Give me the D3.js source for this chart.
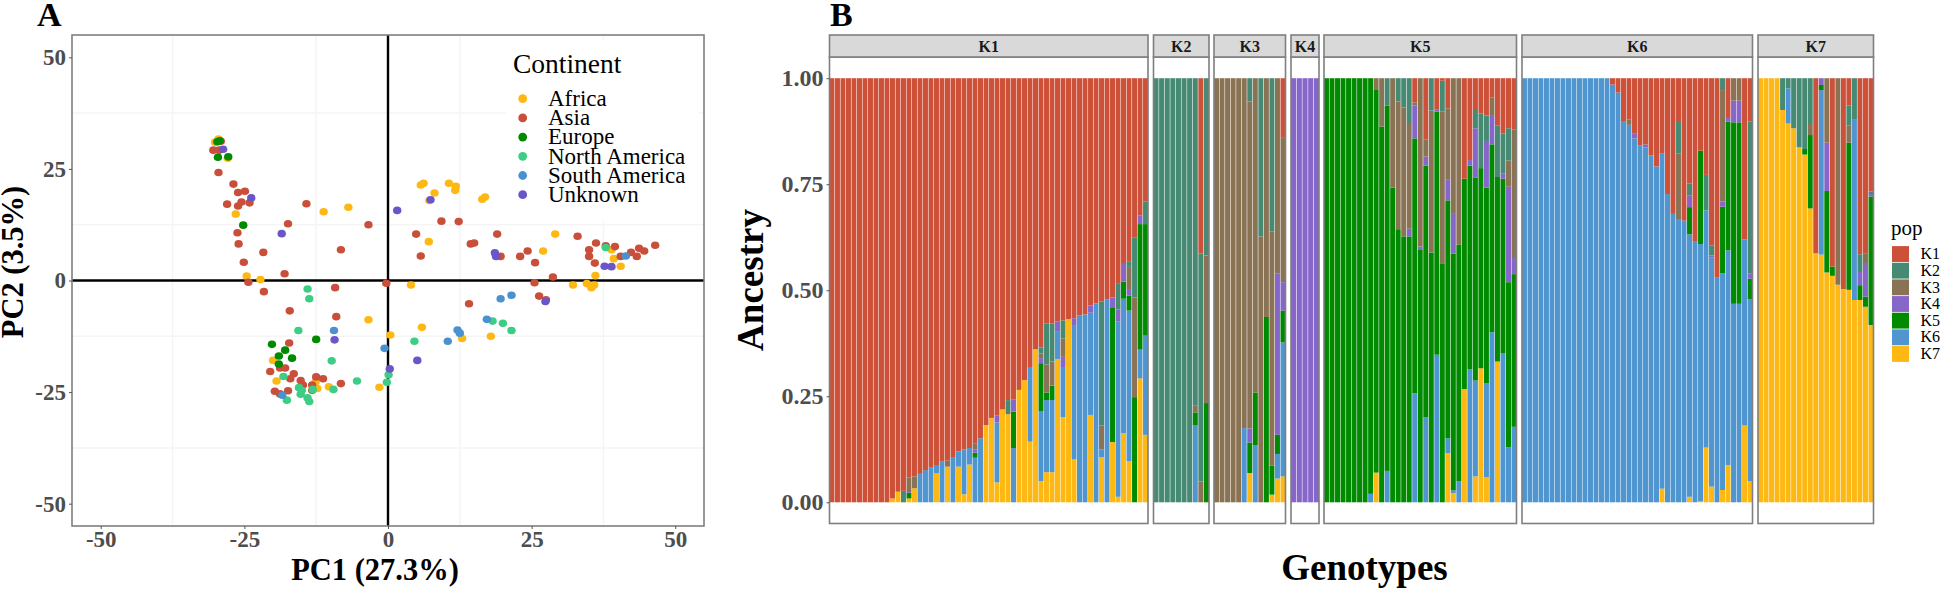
<!DOCTYPE html>
<html>
<head>
<meta charset="utf-8">
<script src="https://d3js.org/d3.v7.min.js"></script>
<style>
  body { margin: 0; background: #fff; }
  svg { display: block; }
  text { font-family: "Liberation Serif", serif; }
</style>
</head>
<body>
<script>
// Panel A: PCA points, [PC1, PC2] per continent
var continents = ["Africa", "Asia", "Europe", "North America", "South America", "Unknown"];
var continentColors = ["#fdb813", "#c94f3b", "#008a00", "#3dcd84", "#4a92cf", "#6a55c9"];

var africa = [[-30.1,31.0],[-29.5,31.7],[-27.9,27.4],[-26.5,14.9],[-24.6,1.0],[-22.2,0.2],[-11.2,15.4],[-6.9,16.4],[5.7,21.4],[6.2,21.8],[8.1,19.6],[7.2,17.9],[10.6,21.8],[11.8,21.1],[11.7,20.2],[16.4,18.2],[16.9,18.7],[7.1,8.7],[4.0,-1.0],[29.1,10.4],[27.0,6.6],[32.2,-1.0],[34.6,-0.7],[36.1,1.1],[35.9,-1.0],[35.4,-1.6],[38.9,6.9],[39.3,4.9],[40.5,3.2],[-3.4,-8.8],[5.9,-10.5],[0.4,-12.2],[12.9,-13.0],[17.9,-12.5],[-20.0,-17.9],[-19.4,-22.5],[-12.6,-22.7],[-12.3,-24.2],[-10.3,-23.8],[-1.5,-23.9]];
var asia = [[-29.1,31.2],[-30.4,29.2],[-29.4,29.2],[-29.5,24.2],[-26.9,21.6],[-26.1,19.7],[-24.9,20.0],[-28.0,17.1],[-26.1,16.7],[-25.5,17.6],[-24.1,17.4],[-26.2,10.7],[-26.0,8.2],[-25.1,4.1],[-24.3,-0.4],[-21.7,6.3],[-21.6,-2.5],[-18.0,1.5],[-17.4,12.7],[-14.2,17.2],[-8.2,6.9],[-3.4,12.5],[-9.2,-1.6],[-0.3,-0.6],[4.9,10.4],[5.7,5.5],[9.3,13.3],[12.3,13.2],[14.4,8.2],[15.0,8.4],[19.0,10.4],[19.6,5.4],[23.0,5.4],[24.3,6.6],[25.6,4.0],[25.5,-0.5],[28.7,0.8],[33.0,9.9],[35.0,6.9],[35.0,5.4],[36.2,8.4],[36.0,3.9],[37.9,7.8],[39.5,7.6],[40.5,5.4],[42.3,6.3],[43.7,7.2],[43.3,5.4],[44.6,6.6],[46.5,7.9],[26.3,-3.5],[27.5,-4.3],[14.1,-5.2],[-17.1,-6.8],[-9.0,-8.1],[-17.2,-14.0],[-20.5,-20.4],[-18.8,-19.6],[-17.9,-19.6],[-16.4,-20.9],[-17.0,-22.0],[-15.2,-22.4],[-14.8,-23.4],[-12.5,-21.6],[-11.3,-22.0],[-8.2,-23.1],[-19.7,-24.8],[-17.4,-24.7],[-13.2,-23.4],[-13.2,-24.6],[-18.8,-25.4]];
var europe = [[-29.7,31.1],[-29.3,31.3],[-29.6,27.6],[-27.8,27.7],[-25.2,12.4],[-20.2,-14.3],[-12.5,-13.2],[-17.9,-15.6],[-19.0,-16.9],[-16.7,-17.4],[-19.0,-18.7]];
var northAmerica = [[-14.0,-1.9],[-13.7,-4.1],[37.9,7.4],[-15.6,-11.2],[18.2,-9.1],[20.0,-9.6],[21.5,-11.2],[4.6,-13.6],[-9.8,-18.0],[0.1,-21.1],[-0.2,-22.8],[-5.4,-22.5],[-18.2,-21.5],[-15.5,-24.0],[-15.0,-24.6],[-15.2,-25.5],[-13.1,-24.4],[-9.5,-24.4],[-17.6,-26.8],[-14.0,-26.3],[-13.7,-27.1]];
var southAmerica = [[19.6,-4.1],[21.5,-3.3],[41.4,5.5],[17.2,-8.7],[12.1,-11.1],[12.5,-11.8],[10.4,-13.6],[-9.4,-11.2],[-0.6,-15.2],[-18.4,-25.7]];
var unknown = [[-28.7,29.4],[-23.8,18.5],[-18.5,10.5],[1.6,15.7],[7.4,18.1],[18.6,6.2],[18.8,5.4],[37.7,3.2],[38.9,3.1],[27.4,-4.7],[-9.3,-13.3],[5.1,-17.9],[0.3,-19.8]];
var pcaPoints = [africa, asia, europe, northAmerica, southAmerica, unknown];
var pcaTicks = [-50, -25, 0, 25, 50];
var pcaMinor = [-37.5, -12.5, 12.5, 37.5];

// Panel B: ancestry per genotype, each row is [K1, K2, K3, K4, K5, K6, K7]
var pops = ["K1", "K2", "K3", "K4", "K5", "K6", "K7"];
var popColors = ["#cd5038", "#468a73", "#8a7355", "#8766c9", "#008a00", "#4f95cf", "#fdb813"];
var ancestryTicks = [0, 0.25, 0.5, 0.75, 1];

var barsK1 = [[1,0,0,0,0,0,0],[1,0,0,0,0,0,0],[1,0,0,0,0,0,0],[1,0,0,0,0,0,0],[1,0,0,0,0,0,0],[1,0,0,0,0,0,0],[1,0,0,0,0,0,0],[1,0,0,0,0,0,0],[1,0,0,0,0,0,0],[1,0,0,0,0,0,0],[1,0,0,0,0,0,0],
  [.991,0,0,0,0,0,.009],[.975,0,0,0,0,0,.025],[.973,.027,0,0,0,0,0],[.941,0,.035,.002,.013,0,.009],[.939,0,.028,0,0,0,.033],[.933,0,0,0,0,.067,0],[.924,0,0,0,0,.076,0],[.917,0,0,0,0,.083,0],[.914,0,0,0,0,.018,.068],
  [.903,0,0,0,0,.097,0],[.901,0,.015,0,0,0,.084],[.895,0,0,0,0,.105,0],[.88,0,0,0,0,.036,.084],[.875,0,0,0,0,.106,.019],[.872,0,0,0,0,.039,.089],[.862,0,.013,.008,.012,.105,0],[.849,0,0,0,0,.151,0],[.818,0,0,0,0,0,.182],[.801,0,0,0,0,0,.199],
  [.795,0,0,.017,0,.141,.047],[.781,0,0,0,0,0,.219],[.759,.033,0,0,0,0,.208],[.757,0,0,.029,.086,.128,0],[.735,0,0,0,0,0,.265],[.712,0,0,0,0,0,.288],[.681,0,0,0,0,.176,.143],[.639,0,0,0,0,0,.361],[.635,.014,.011,.012,.114,.164,.05],[.578,.097,.066,0,.018,.17,.071],
  [.578,.09,.057,0,.034,.17,.071],[.574,0,0,.024,0,.064,.338],[.571,.043,.043,.024,0,.118,.201],[.568,0,0,0,0,0,.432],[.566,0,0,.016,0,.317,.101],[.559,0,0,0,0,.441,0],[.557,0,0,0,0,.443,0],[.536,0,0,.017,0,.241,.206],[.531,0,0,0,0,.469,0],[.527,.292,.056,0,0,.019,.106],
  [.521,0,0,0,0,.479,0],[.517,0,0,.023,.318,0,.142],[.485,.06,0,.028,0,.414,.013],[.438,0,0,.042,.04,.317,.163],[.433,.012,.052,.016,.035,.355,.097],[.375,.142,.235,0,.248,0,0],[.324,0,0,.02,.296,.068,.292],[.291,.053,0,0,.263,.234,.159]];

var barsK2 = [[0,1,0,0,0,0,0],[0,1,0,0,0,0,0],[0,1,0,0,0,0,0],[0,1,0,0,0,0,0],[0,1,0,0,0,0,0],[0,1,0,0,0,0,0],[0,1,0,0,0,0,0],
  [0,.771,.017,0,.031,.181,0],[.413,.538,.049,0,0,0,0],[0,.418,.348,0,.234,0,0]];

var barsK3 = [[0,0,1,0,0,0,0],[0,0,1,0,0,0,0],[0,0,1,0,0,0,0],[0,0,1,0,0,0,0],[0,0,1,0,0,0,0],
  [0,0,.825,0,0,.175,0],[0,.055,.771,.033,.072,0,.069],[0,0,.741,0,.124,.135,0],[0,.373,.627,0,0,0,0],[0,0,.563,0,.437,0,0],[0,.361,.553,0,.068,0,.018],[0,0,.461,.38,.045,.058,.056],[.139,0,.342,.067,.075,.316,.061]];

var barsK4 = [[0,0,0,1,0,0,0],[0,0,0,1,0,0,0],[0,0,0,1,0,0,0],[0,0,0,1,0,0,0],[0,0,0,1,0,0,0]];

var barsK5 = [[0,0,0,0,1,0,0],[0,0,0,0,1,0,0],[0,0,0,0,1,0,0],[0,0,0,0,1,0,0],[0,0,0,0,1,0,0],[0,0,0,0,1,0,0],[0,0,0,0,1,0,0],[0,0,0,0,1,0,0],
  [0,0,0,0,.98,.02,0],[0,0,.026,0,.904,0,.07],[0,0,.114,0,.886,0,0],[0,.065,0,0,.861,.074,0],[0,0,.258,0,.742,0,0],[0,.055,.301,0,.644,0,0],[0,.069,.304,0,.627,0,0],[0,.108,.247,.018,.627,0,0],
  [.057,0,.007,.078,.601,.257,0],[0,0,.397,.008,.595,0,0],[.144,0,.041,.021,.594,.2,0],[0,.076,.335,0,.589,0,0],[.073,0,0,.006,.573,.348,0],[.006,.073,.359,0,.562,0,0],[.071,0,.167,.05,.561,.035,.116],[0,0,.32,.094,.558,.006,.022],
  [0,0,.393,0,.557,.05,0],[.237,0,0,0,.496,0,.267],[.193,0,0,.013,.48,.314,0],[.075,.043,0,.117,.478,.226,.061],[.083,.129,0,0,.472,0,.316],[.088,.06,0,.11,.461,.222,.059],[.046,0,.043,.067,.443,.401,0],[.111,.122,0,0,.435,0,.332],
  [.13,.094,0,.013,.411,.352,0],[.118,.076,.062,.225,.389,.13,0],[.121,0,.303,.038,.36,.178,0]];

var barsK6 = [[0,0,0,0,0,1,0],[0,0,0,0,0,1,0],[0,0,0,0,0,1,0],[0,0,0,0,0,1,0],[0,0,0,0,0,1,0],[0,0,0,0,0,1,0],[0,0,0,0,0,1,0],[0,0,0,0,0,1,0],[0,0,0,0,0,1,0],[0,0,0,0,0,1,0],[0,0,0,0,0,1,0],[0,0,0,0,0,1,0],[0,0,0,0,0,1,0],[0,0,0,0,0,1,0],[0,0,0,0,0,1,0],[0,0,0,0,0,1,0],
  [.015,0,0,0,0,.985,0],[.034,0,0,0,0,.966,0],[.101,0,0,0,0,.899,0],[.097,0,.013,0,0,.89,0],[.131,0,0,.011,0,.858,0],[.159,0,0,0,0,.841,0],[.156,0,0,.007,0,.837,0],[.182,0,0,0,0,.818,0],[.208,0,0,0,0,.792,0],[.178,0,0,0,0,.79,.032],[.273,0,0,0,0,.727,0],[.32,0,0,0,0,.68,0],
  [.101,.076,.155,0,0,.668,0],[.336,0,0,0,0,.664,0],[.248,.028,0,.028,.064,.619,.013],[.384,0,0,0,0,.616,0],[.171,0,0,0,.22,.607,.002],[.228,.084,0,0,0,.559,.129],[.395,.023,0,.004,0,.541,.037],[.469,0,0,0,0,.531,0],[0,.028,.263,.012,.157,.511,.029],[.094,0,0,.008,.304,.506,.088],
  [0,0,.053,.051,.428,.468,0],[0,0,.053,.051,.428,.468,0],[.38,0,0,0,0,.439,.181],[.102,.359,0,.012,.048,.429,.05]];

var barsK7 = [[0,0,0,0,0,0,1],[0,0,0,0,0,0,1],[0,0,0,0,0,0,1],[0,0,0,0,0,0,1],
  [0,.075,0,0,0,0,.925],[0,.024,0,0,0,.083,.893],[0,.118,0,0,0,0,.882],[0,.163,0,0,0,0,.837],[0,.167,0,0,.013,0,.82],[0,.108,.026,0,.173,0,.693],[.413,0,0,0,0,0,.587],[0,0,0,.016,.012,.388,.584],
  [0,0,.152,.114,.192,0,.542],[.444,0,0,0,.022,0,.534],[0,0,.487,0,0,0,.513],[.497,0,0,0,0,0,.503],[.064,.047,.041,0,.347,0,.501],[0,.098,0,0,0,.425,.477],[.415,.042,0,.031,.035,0,.477],[.414,0,.024,.077,.024,0,.461],[.267,.006,0,.006,.303,0,.418]];

var facetNames = ["K1", "K2", "K3", "K4", "K5", "K6", "K7"];
var facetBars = [barsK1, barsK2, barsK3, barsK4, barsK5, barsK6, barsK7];
var facetX = [[829.5, 1148], [1153.5, 1209], [1214, 1285.5], [1291, 1319], [1324, 1516.5], [1522, 1752.5], [1758, 1873.5]];

var serif = "'Liberation Serif', serif";
var frame = "#7f7f7f";

var svg = d3.select("body").append("svg")
    .attr("width", 1944)
    .attr("height", 589);

// ---------- Panel A ----------
var A = {left: 72, right: 704, top: 35, bottom: 526};
var x = d3.scaleLinear().domain([-55, 55]).range([A.left, A.right]);
var y = d3.scaleLinear().domain([-55, 55]).range([A.bottom, A.top]);

svg.append("rect")
    .attr("x", A.left).attr("y", A.top)
    .attr("width", A.right - A.left).attr("height", A.bottom - A.top)
    .attr("fill", "#fff");

svg.selectAll(".gridx").data(pcaMinor).enter().append("line")
    .attr("x1", function(d) { return x(d); }).attr("x2", function(d) { return x(d); })
    .attr("y1", A.top).attr("y2", A.bottom)
    .attr("stroke", "#f5f5f5").attr("stroke-width", 1.5);
svg.selectAll(".gridy").data(pcaMinor).enter().append("line")
    .attr("y1", function(d) { return y(d); }).attr("y2", function(d) { return y(d); })
    .attr("x1", A.left).attr("x2", A.right)
    .attr("stroke", "#f5f5f5").attr("stroke-width", 1.5);

// legend background hides the grid
svg.append("rect").attr("x", 506).attr("y", 40).attr("width", 193).attr("height", 181).attr("fill", "#fff");

// zero lines
svg.append("line").attr("x1", x(0)).attr("x2", x(0)).attr("y1", A.top).attr("y2", A.bottom)
    .attr("stroke", "#000").attr("stroke-width", 2.4);
svg.append("line").attr("y1", y(0)).attr("y2", y(0)).attr("x1", A.left).attr("x2", A.right)
    .attr("stroke", "#000").attr("stroke-width", 2.4);

// points
pcaPoints.forEach(function(pts, i) {
  svg.append("g").selectAll("ellipse")
      .data(pts)
    .enter().append("ellipse")
      .attr("cx", function(d) { return x(d[0]); })
      .attr("cy", function(d) { return y(d[1]); })
      .attr("rx", 4.2)
      .attr("ry", 3.8)
      .attr("fill", continentColors[i]);
});

svg.append("rect")
    .attr("x", A.left).attr("y", A.top)
    .attr("width", A.right - A.left).attr("height", A.bottom - A.top)
    .attr("fill", "none").attr("stroke", frame).attr("stroke-width", 1.6);

// axes
var axisA_x = svg.append("g").attr("transform", "translate(0," + A.bottom + ")")
    .call(d3.axisBottom(x).tickValues(pcaTicks).tickFormat(String).tickSize(3));
var axisA_y = svg.append("g").attr("transform", "translate(" + A.left + ",0)")
    .call(d3.axisLeft(y).tickValues(pcaTicks).tickFormat(String).tickSize(3));
[axisA_x, axisA_y].forEach(function(g) {
  g.select(".domain").remove();
  g.selectAll("line").attr("stroke", "#555");
  g.selectAll("text").attr("fill", "#4d4d4d").attr("font-family", serif)
      .attr("font-weight", "bold").attr("font-size", 23);
});
axisA_x.selectAll("text").attr("dy", "0.66em");

svg.append("text").attr("x", 37).attr("y", 26).attr("font-size", 34).attr("font-weight", "bold").text("A");
svg.append("text").attr("x", 375).attr("y", 580).attr("text-anchor", "middle")
    .attr("font-size", 30.5).attr("font-weight", "bold").text("PC1 (27.3%)");
svg.append("text").attr("transform", "translate(23,262) rotate(-90)").attr("text-anchor", "middle")
    .attr("font-size", 30.5).attr("font-weight", "bold").text("PC2 (3.5%)");

// continent legend
svg.append("text").attr("x", 513).attr("y", 73).attr("font-size", 27.5).text("Continent");
var legendA = d3.scaleLinear().domain([0, 5]).range([98.7, 194.7]);
continents.forEach(function(name, i) {
  svg.append("circle").attr("cx", 522.7).attr("cy", legendA(i)).attr("r", 4.4)
      .attr("fill", continentColors[i]);
  svg.append("text").attr("x", 548).attr("y", legendA(i) + 7.3).attr("font-size", 23).text(name);
});

// ---------- Panel B ----------
var B = {top: 57, bottom: 523.5, stripTop: 35};
var yAnc = d3.scaleLinear().domain([-0.05, 1.05]).range([B.bottom, B.top]);
var stackKeys = [6, 5, 4, 3, 2, 1, 0];
var stack = d3.stack().keys(stackKeys).value(function(row, k) { return row[k]; });

facetBars.forEach(function(rows, f) {
  var x0 = facetX[f][0], x1 = facetX[f][1];
  var xBar = d3.scaleBand().domain(d3.range(rows.length)).range([x0, x1]).paddingInner(0.1);
  var g = svg.append("g");

  g.selectAll(".layer")
      .data(stack(rows))
    .enter().append("g")
      .attr("fill", function(s) { return popColors[s.key]; })
    .selectAll("rect")
      .data(function(s) { return s; })
    .enter().append("rect")
      .attr("x", function(d, i) { return xBar(i); })
      .attr("width", xBar.bandwidth())
      .attr("y", function(d) { return yAnc(d[1]); })
      .attr("height", function(d) { return yAnc(d[0]) - yAnc(d[1]); });

  g.append("rect")
      .attr("x", x0).attr("y", B.top)
      .attr("width", x1 - x0).attr("height", B.bottom - B.top)
      .attr("fill", "none").attr("stroke", frame).attr("stroke-width", 1.6);

  g.append("rect")
      .attr("x", x0).attr("y", B.stripTop)
      .attr("width", x1 - x0).attr("height", B.top - B.stripTop)
      .attr("fill", "#d9d9d9").attr("stroke", frame).attr("stroke-width", 1.6);

  g.append("text")
      .attr("x", (x0 + x1) / 2).attr("y", 51.5)
      .attr("text-anchor", "middle")
      .attr("font-size", 16).attr("font-weight", "bold").attr("fill", "#1a1a1a")
      .text(facetNames[f]);
});

var axisB = svg.append("g").attr("transform", "translate(" + facetX[0][0] + ",0)")
    .call(d3.axisLeft(yAnc).tickValues(ancestryTicks).tickFormat(d3.format(".2f")).tickSize(3));
axisB.select(".domain").remove();
axisB.selectAll("line").attr("stroke", "#555");
axisB.selectAll("text").attr("fill", "#4d4d4d").attr("font-family", serif)
    .attr("font-weight", "bold").attr("font-size", 24);

svg.append("text").attr("x", 830).attr("y", 26).attr("font-size", 34).attr("font-weight", "bold").text("B");
svg.append("text").attr("transform", "translate(763,280) rotate(-90)").attr("text-anchor", "middle")
    .attr("font-size", 37).attr("font-weight", "bold").text("Ancestry");
svg.append("text").attr("x", 1364.5).attr("y", 579.5).attr("text-anchor", "middle")
    .attr("font-size", 37).attr("font-weight", "bold").text("Genotypes");

// pop legend
svg.append("text").attr("x", 1891).attr("y", 235).attr("font-size", 21).text("pop");
var keyY = d3.scaleBand().domain(pops).range([245.7, 362.3]);
pops.forEach(function(p, i) {
  svg.append("rect").attr("x", 1892).attr("y", keyY(p) + 0.4)
      .attr("width", 17).attr("height", keyY.bandwidth() - 0.8)
      .attr("fill", popColors[i]);
  svg.append("text").attr("x", 1920.5).attr("y", keyY(p) + 13.5).attr("font-size", 16).text(p);
});
</script>
</body>
</html>
